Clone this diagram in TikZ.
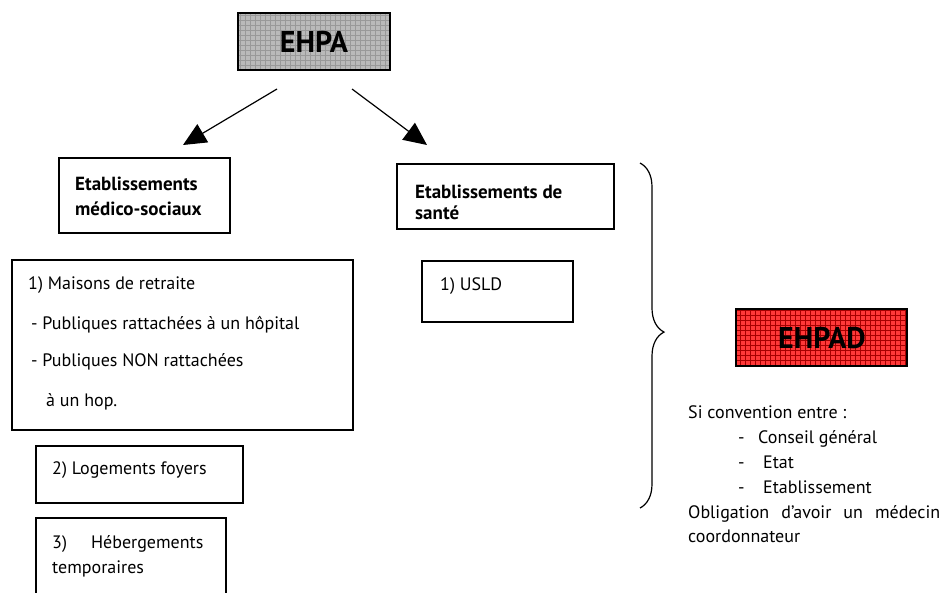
\documentclass[tikz,border=0pt]{standalone}
\usepackage{fontspec}
\setmainfont{PT Sans}
\usetikzlibrary{arrows.meta,decorations.pathreplacing}
\tikzset{
  box/.style={draw=black, line width=1.2pt},
  txt/.style={anchor=base west, inner sep=0pt, font=\fontsize{18}{21}\selectfont},
  btxt/.style={anchor=base west, inner sep=0pt, font=\bfseries\fontsize{19}{22}\selectfont},
  bigtxt/.style={inner sep=0pt, font=\bfseries\fontsize{30}{32}\selectfont},
  arr/.style={line width=1.2pt, -{Triangle[length=23pt,width=21pt]}},
}
\begin{document}
\begin{tikzpicture}[x=1pt,y=-1pt]
\useasboundingbox (0,0) rectangle (944,592);
% EHPA
\fill[black!27] (238,13) rectangle (390,70);
\begin{scope}
\clip (238,13) rectangle (390,70);
\draw[black!40, line width=0.4pt, step=5pt] (238,13) grid (390,70);
\end{scope}
\draw[box] (238,13) rectangle (390,70);
\node[bigtxt] (ehpa) at (314,42) {EHPA};
% arrows
\coordinate (a1s) at (277,89); \coordinate (a1e) at (183,145);
\coordinate (a2s) at (352,89); \coordinate (a2e) at (427,145);
\draw[arr] (a1s) -- (a1e);
\draw[arr] (a2s) -- (a2e);
% medico-sociaux
\draw[box] (59,158) rectangle (230,233);
\node[btxt] (ms1) at (75,190) {Etablissements};
\node[btxt] (ms2) at (75,215) {médico-sociaux};
% sante
\draw[box] (397,164) rectangle (614,229);
\node[btxt] (s1) at (415,198) {Etablissements de};
\node[btxt] (s2) at (415,219) {santé};
% USLD
\draw[box] (422,261) rectangle (573,322);
\node[txt] (usld) at (440,290) {1) USLD};
% Maisons
\draw[box] (12,260) rectangle (353,430);
\node[txt] (m1) at (28,289) {1) Maisons de retraite};
\node[txt] (m2) at (31,329) {- Publiques rattachées à un hôpital};
\node[txt] (m3) at (31,366) {- Publiques NON rattachées};
\node[txt] (m4) at (46,406) {à un hop.};
% Logements
\draw[box] (36,446) rectangle (243,503);
\node[txt] (lf) at (52,474) {2) Logements foyers};
% Hebergements
\draw[box] (36,518) rectangle (226,600);
\node[txt] (h1) at (52,548) {3)\hspace{24pt}Hébergements};
\node[txt] (h2) at (52,573) {temporaires};
% brace
\draw[line width=1.2pt, decorate, decoration={brace, amplitude=24pt, aspect=0.49}] (640,163) -- (640,508);
% EHPAD
\fill[red!78!white] (736,309) rectangle (907,366);
\begin{scope}
\clip (736,309) rectangle (907,366);
\draw[red!65!black, line width=0.4pt, step=5pt] (736,309) grid (907,366);
\end{scope}
\draw[box] (736,309) rectangle (907,366);
\node[bigtxt] (ehpad) at (822,338) {EHPAD};
% conditions
\node[txt] (c0) at (688,418) {Si convention entre :};
\node[txt] (c1d) at (738,443) {-};
\node[txt] (c1) at (758,443) {Conseil général};
\node[txt] (c2d) at (738,468) {-};
\node[txt] (c2) at (763,468) {Etat};
\node[txt] (c3d) at (738,493) {-};
\node[txt] (c3) at (763,493) {Etablissement};
\node[txt] (c4) at (688,518) {\hbox to 252pt{Obligation\hfill d’avoir\hfill un\hfill médecin}};
\node[txt] (c5) at (688,542) {coordonnateur};
\end{tikzpicture}
\end{document}
